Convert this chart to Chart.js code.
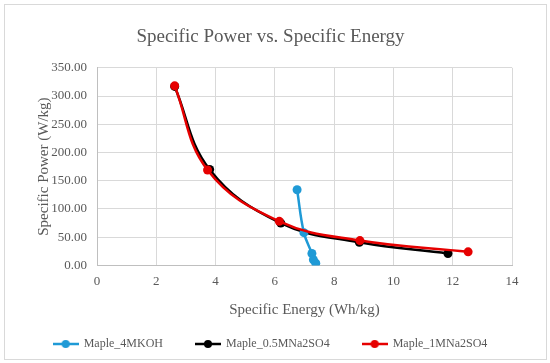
<!DOCTYPE html>
<html>
<head>
<meta charset="utf-8">
<script src="https://cdn.jsdelivr.net/npm/chart.js@4/dist/chart.umd.min.js"></script>
<style>
  html, body { margin: 0; padding: 0; background: #fff; }
  #wrap { position: absolute; left: 4px; top: 4px; width: 543px; height: 356px; border: 1px solid #d9d9d9; box-sizing: border-box; }
  #grafico { position: absolute; left: -4px; top: -4px; }
</style>
</head>
<body>
<div id="wrap"><canvas id="grafico" width="550" height="363"></canvas></div>
<script>
// --- dados ---
const seriesNames = ['Maple_4MKOH', 'Maple_0.5MNa2SO4', 'Maple_1MNa2SO4'];
const seriesColors = ['#1f9ad6', '#000000', '#e60000'];

const energia4MKOH = [6.75, 6.98, 7.25, 7.3, 7.38];
const potencia4MKOH = [134, 58, 21, 10, 4];

const energia05M = [2.62, 3.8, 6.2, 8.85, 11.84];
const potencia05M = [317, 170, 75, 41, 21];

const energia1M = [2.62, 3.73, 6.15, 8.87, 12.52];
const potencia1M = [318, 169, 78, 44, 24];

const xTicks = [0, 2, 4, 6, 8, 10, 12, 14];
const yTicks = [0, 50, 100, 150, 200, 250, 300, 350];

function pontos(xs, ys) {
    return xs.map((x, i) => ({ x: x, y: ys[i] }));
}

// ícone da legenda: linha com marcador
function iconeLegenda(cor) {
    const c = document.createElement('canvas');
    c.width = 26; c.height = 10;
    const g = c.getContext('2d');
    g.strokeStyle = cor; g.lineWidth = 2.5;
    g.beginPath(); g.moveTo(0, 5); g.lineTo(26, 5); g.stroke();
    g.fillStyle = cor;
    g.beginPath(); g.arc(13, 5, 4, 0, Math.PI * 2); g.fill();
    return c;
}

const serif = "'Liberation Serif', 'DejaVu Serif', serif";
const cinza = '#595959';

const dados = [pontos(energia4MKOH, potencia4MKOH), pontos(energia05M, potencia05M), pontos(energia1M, potencia1M)];
const ordens = [1, 2, 0];

const ctx = document.getElementById('grafico');

new Chart(ctx, {
    type: 'line',
    data: {
        datasets: seriesNames.map((nome, i) => ({
            label: nome,
            data: dados[i],
            borderColor: seriesColors[i],
            backgroundColor: seriesColors[i],
            borderWidth: 2.5,
            pointRadius: 4.5,
            pointHoverRadius: 4.5,
            pointBorderWidth: 0,
            tension: 0.4,
            fill: false,
            order: ordens[i],
            pointStyle: 'circle'
        }))
    },
    options: {
        responsive: false,
        animation: false,
        layout: { padding: { left: 4, right: 15, top: 10, bottom: 4 } },
        plugins: {
            title: {
                display: true,
                text: 'Specific Power vs. Specific Energy',
                color: cinza,
                font: { family: serif, size: 19, weight: 'normal' },
                padding: { top: 15, bottom: 19 }
            },
            legend: {
                position: 'bottom',
                labels: {
                    color: cinza,
                    font: { family: serif, size: 12 },
                    usePointStyle: true,
                    pointStyleWidth: 24,
                    padding: 33,
                    sort: (a, b) => a.datasetIndex - b.datasetIndex,
                    generateLabels: (chart) => chart.data.datasets.map((ds, i) => ({
                        text: ds.label,
                        fillStyle: ds.borderColor,
                        strokeStyle: ds.borderColor,
                        fontColor: cinza,
                        pointStyle: iconeLegenda(ds.borderColor),
                        datasetIndex: i,
                        hidden: false,
                        lineWidth: 0
                    }))
                }
            },
            tooltip: { enabled: false }
        },
        scales: {
            x: {
                type: 'linear',
                min: 0, max: 14,
                afterBuildTicks: (axis) => { axis.ticks = xTicks.map(v => ({ value: v })); },
                ticks: { color: cinza, font: { family: serif, size: 13 }, padding: 8, autoSkip: false },
                grid: { color: '#d9d9d9', drawTicks: false },
                border: { color: '#bfbfbf' },
                title: { display: true, text: 'Specific Energy (Wh/kg)', color: cinza, font: { family: serif, size: 15 }, padding: { top: 4, bottom: -14 } }
            },
            y: {
                min: 0, max: 350,
                afterBuildTicks: (axis) => { axis.ticks = yTicks.map(v => ({ value: v })); },
                afterFit: (axis) => { axis.width = 92; },
                ticks: { color: cinza, font: { family: serif, size: 13 }, padding: 10, autoSkip: false, callback: (v) => v.toFixed(2) },
                grid: { color: '#d9d9d9', drawTicks: false },
                border: { color: '#bfbfbf' },
                title: { display: true, text: 'Specific Power (W/kg)', color: cinza, font: { family: serif, size: 15 }, padding: { top: 30, bottom: 2 } }
            },
            margemDireita: {
                type: 'linear',
                position: 'right',
                display: true,
                afterFit: (axis) => { axis.width = 24; },
                ticks: { display: false },
                grid: { display: false },
                border: { display: false }
            }
        }
    }
});
</script>
</body>
</html>
